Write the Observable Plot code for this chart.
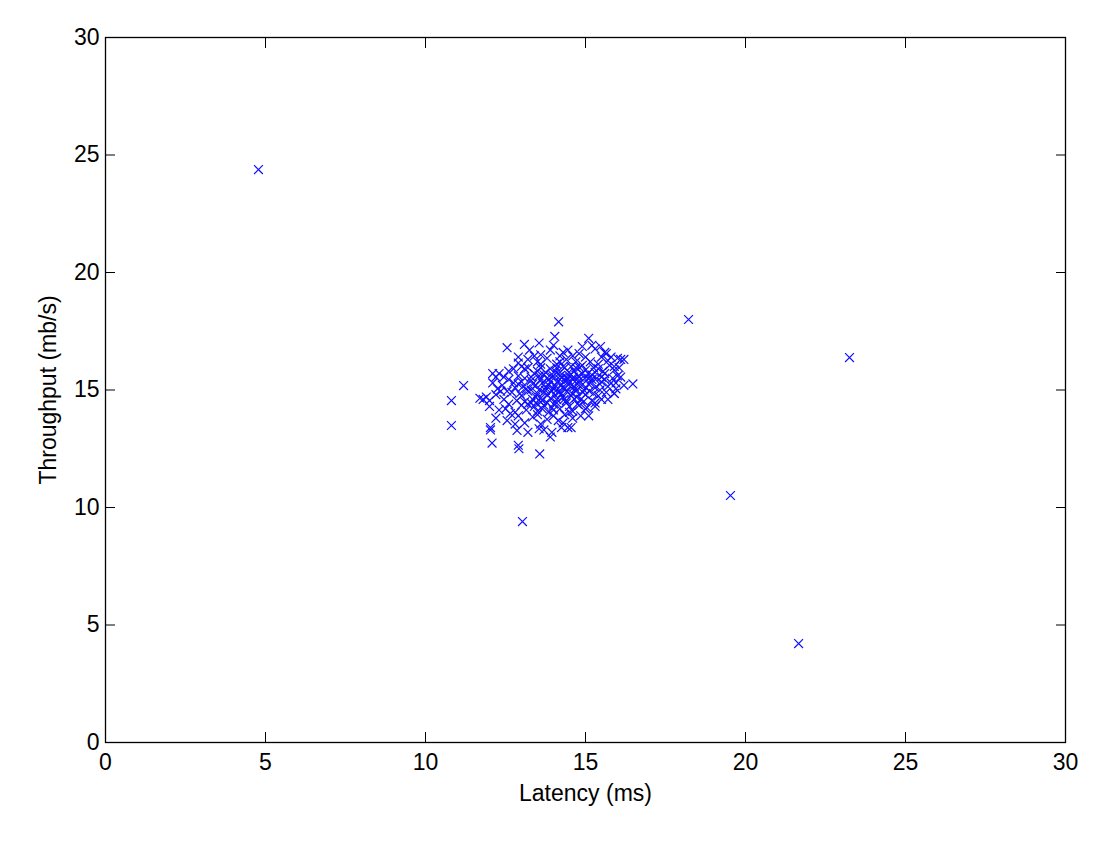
<!DOCTYPE html>
<html><head><meta charset="utf-8">
<script src="https://cdn.jsdelivr.net/npm/d3@7"></script>
<script src="https://cdn.jsdelivr.net/npm/@observablehq/plot@0.6"></script>
<style>body{margin:0;background:#fff;}</style>
</head><body><div id="chart"></div>
<script>
const latency = [
  4.78, 18.22, 23.25, 19.53, 21.66, 13.03, 13.57, 10.81, 10.81, 11.19, 11.8, 11.7, 12.1,
  14.16, 14.04, 15.1, 13.09, 15.47, 12.55, 16.48, 15.9, 16.1,
  13.9, 14.3, 14.8, 15.3, 15.6, 14.0, 15.8, 16.0, 13.6, 14.6, 15.2,
  13.2, 13.5, 13.8, 14.1, 14.4, 14.7, 15.0, 15.4, 15.7, 15.9, 13.0, 14.2, 14.9, 15.5, 13.4, 12.9, 14.55, 15.15,
  12.3, 12.6, 12.9, 13.1, 13.3, 13.5, 13.7, 13.9, 14.0, 14.2, 14.35, 14.5, 14.65, 14.8, 15.0, 15.2, 15.4, 15.6, 15.85, 16.0, 13.2, 13.8, 14.1, 14.4, 14.7, 15.1, 15.5, 12.2, 12.75, 13.6, 14.25, 14.9, 15.3, 15.9,
  12.1, 12.4, 12.6, 12.8, 13.0, 13.15, 13.3, 13.45, 13.6, 13.75, 13.9, 14.05, 14.2, 14.35, 14.5, 14.65, 14.8, 14.95, 15.1, 15.3, 15.5, 15.7, 15.95, 16.2, 12.9, 13.55, 14.1, 14.6, 15.2, 13.35, 13.85, 14.75, 14.25, 12.25, 15.6, 13.05, 14.45,
  11.9, 12.2, 12.45, 12.7, 12.85, 13.0, 13.2, 13.35, 13.5, 13.65, 13.8, 13.95, 14.1, 14.25, 14.4, 14.55, 14.7, 14.85, 15.0, 15.2, 15.4, 15.65, 15.9, 12.55, 13.1, 13.75, 14.3, 14.95, 15.5, 12.0, 13.45, 14.05, 14.65, 12.35, 13.6,
  12.0, 12.3, 12.6, 12.8, 13.0, 13.15, 13.3, 13.5, 13.7, 13.85, 14.0, 14.2, 14.4, 14.6, 14.8, 15.05, 15.3, 12.5, 13.4, 13.95, 14.5, 12.65, 13.6,
  12.2, 12.55, 12.9, 13.1, 13.35, 13.6, 13.8, 14.0, 14.3, 14.6, 12.8, 13.5, 14.15,
  12.03, 12.03, 12.86, 12.9, 12.92, 14.45, 14.55, 13.9, 13.95, 12.08, 13.7,
  13.55, 13.65, 13.7, 13.75, 13.85, 13.9, 13.95, 14.0, 14.05, 14.1, 14.12, 14.18, 14.22, 14.28, 14.3, 14.33, 14.38, 14.42, 14.48, 14.52, 14.58, 14.62, 14.68, 14.72, 14.78, 14.82, 14.88, 14.92, 14.98, 15.02, 15.08, 15.12, 15.18, 15.25, 15.35, 15.45, 15.55, 15.75,
  13.4, 13.45, 13.6, 13.3, 13.2, 13.1, 12.95,
  13.65, 13.8, 14.0, 14.2, 14.35, 14.5, 14.75, 15.0, 15.25, 15.45, 15.8, 16.05,
  12.75, 12.45, 12.9, 13.25, 13.55, 14.45, 14.9, 15.65, 16.2,
  16.1, 15.95, 15.7, 15.3, 15.1, 14.85, 14.25, 13.55, 13.2
];
const throughput = [
  24.38, 18.0, 16.38, 10.51, 4.21, 9.40, 12.28, 14.55, 13.49, 15.19, 14.6, 14.65, 15.7,
  17.9, 17.28, 17.2, 16.94, 16.85, 16.8, 15.26, 14.85, 16.3,
  16.7, 16.6, 16.55, 16.75, 16.6, 16.9, 16.4, 16.35, 16.5, 16.45, 16.9,
  16.3, 16.2, 16.35, 16.1, 16.3, 16.2, 16.4, 16.1, 16.25, 16.0, 16.0, 16.45, 16.05, 16.4, 16.45, 16.15, 16.0, 16.2,
  15.7, 15.8, 15.6, 15.9, 15.55, 15.8, 15.65, 15.9, 15.6, 15.75, 15.95, 15.6, 15.8, 15.55, 15.85, 15.65, 15.9, 15.7, 15.5, 15.6, 15.95, 15.5, 15.95, 15.55, 15.95, 15.5, 15.55, 15.55, 15.9, 15.95, 15.52, 15.7, 15.75, 15.85,
  15.3, 15.2, 15.45, 15.1, 15.35, 15.05, 15.4, 15.2, 15.45, 15.1, 15.35, 15.2, 15.45, 15.05, 15.3, 15.15, 15.4, 15.0, 15.25, 15.1, 15.35, 15.15, 15.3, 15.2, 15.25, 15.0, 15.0, 15.45, 15.45, 15.25, 15.45, 15.25, 15.25, 15.05, 15.45, 15.15, 15.45,
  14.7, 14.8, 14.6, 14.9, 14.55, 14.75, 14.95, 14.6, 14.85, 14.55, 14.8, 14.95, 14.6, 14.85, 14.55, 14.75, 14.95, 14.6, 14.8, 14.55, 14.75, 14.9, 14.85, 14.95, 14.5, 14.98, 14.7, 14.52, 14.6, 14.55, 14.7, 14.78, 14.62, 14.95, 14.65,
  14.3, 14.15, 14.4, 14.05, 14.35, 14.15, 14.45, 14.1, 14.35, 14.05, 14.4, 14.2, 14.45, 14.1, 14.35, 14.25, 14.45, 14.2, 14.3, 14.25, 14.3, 14.0, 14.48,
  13.8, 13.7, 13.9, 13.6, 13.85, 13.55, 13.75, 13.9, 13.6, 13.8, 13.55, 13.95, 13.7,
  13.4, 13.3, 13.28, 12.65, 12.5, 13.4, 13.4, 13.0, 13.2, 12.74, 13.3,
  15.6, 15.3, 14.9, 15.75, 15.2, 14.65, 15.55, 15.05, 15.8, 14.45, 15.35, 14.9, 15.62, 15.1, 16.0, 14.6, 15.4, 14.95, 15.75, 15.15, 14.85, 15.55, 15.05, 14.7, 15.6, 15.95, 15.2, 14.9, 15.5, 15.1, 15.7, 14.95, 15.35, 15.95, 15.5, 15.0, 15.8, 16.05,
  15.7, 14.45, 16.1, 15.0, 14.4, 15.5, 14.85,
  14.2, 14.45, 14.15, 16.2, 13.95, 14.05, 14.4, 14.2, 14.85, 15.25, 15.3, 15.95,
  15.3, 15.55, 16.4, 16.7, 17.0, 16.7, 16.85, 16.55, 16.3,
  15.55, 15.05, 14.6, 14.3, 13.9, 13.9, 13.4, 13.35, 13.2
];
const xTicks = [0, 5, 10, 15, 20, 25, 30];
const yTicks = [0, 5, 10, 15, 20, 25, 30];
const xLabel = "Latency (ms)";
const yLabel = "Throughput (mb/s)";

const n = Math.min(latency.length, throughput.length);
const data = d3.range(n).map(i => ({latency: latency[i], throughput: throughput[i]}));
const blank = () => "";

const chart = Plot.plot({
  width: 1114,
  height: 842,
  marginLeft: 105,
  marginRight: 49,
  marginTop: 37,
  marginBottom: 100,
  style: {fontFamily: "'Liberation Sans', Arial, Helvetica, sans-serif", fontSize: "23px", color: "black", background: "white", overflow: "visible"},
  x: {domain: [0, 30]},
  y: {domain: [0, 30]},
  marks: [
    Plot.axisX(xTicks, {anchor: "bottom", tickSize: -10, tickPadding: 21, label: xLabel, labelAnchor: "center", labelOffset: 58, labelArrow: "none", fontSize: 23}),
    Plot.axisX(xTicks, {anchor: "top", tickSize: -10, tickFormat: blank, label: null}),
    Plot.axisY(yTicks, {anchor: "left", tickSize: -10, tickPadding: 16, label: yLabel, labelAnchor: "center", labelOffset: 66, labelArrow: "none", fontSize: 23}),
    Plot.axisY(yTicks, {anchor: "right", tickSize: -10, tickFormat: blank, label: null}),
    Plot.frame({stroke: "black", strokeWidth: 1.3}),
    Plot.dot(data, {x: "latency", y: "throughput", symbol: "times", r: 4.1, stroke: "#1010ff", strokeWidth: 1.2})
  ]
});
document.getElementById("chart").appendChild(chart);
</script>
</body></html>
